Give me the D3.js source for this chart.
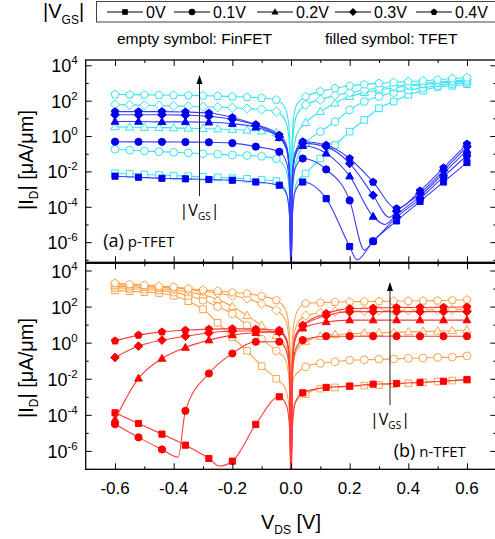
<!DOCTYPE html>
<html><head><meta charset="utf-8">
<script src="https://cdn.jsdelivr.net/npm/d3@7"></script>
<style>body{margin:0;background:#fff}svg{display:block}</style>
</head><body>
<svg id="c" width="495" height="539"></svg>
<script>
// ---------------- DATA ----------------
const vgsLabels = ["0V", "0.1V", "0.2V", "0.3V", "0.4V"];
const shapes = ["square", "circle", "triangle", "diamond", "pentagon"];

// V_DS sample points (V); FinFET markers every 0.05 V, TFET markers every 0.08 V
const vdsFin = [-0.6,-0.55,-0.5,-0.45,-0.4,-0.35,-0.3,-0.25,-0.2,-0.15,-0.1,-0.05,
  -0.02,-0.008,-0.003,0,0.003,0.008,0.02,
  0.05,0.1,0.15,0.2,0.25,0.3,0.35,0.4,0.45,0.5,0.55,0.6];
const vdsTfetP = [-0.6,-0.52,-0.44,-0.36,-0.28,-0.2,-0.12,-0.04,
  -0.015,-0.005,0,0.005,0.015,
  0.04,0.12,0.2,0.225,0.25,0.28,0.32,0.335,0.36,0.44,0.52,0.6];
const vdsTfetN = [-0.6,-0.52,-0.44,-0.385,-0.36,-0.28,-0.245,-0.2,-0.12,-0.04,
  -0.015,-0.005,0,0.005,0.015,
  0.04,0.12,0.2,0.28,0.36,0.44,0.52,0.6];
const tfetMarkV = [-0.6,-0.52,-0.44,-0.36,-0.28,-0.2,-0.12,-0.04,0.04,0.12,0.2,0.28,0.36,0.44,0.52,0.6];

// log10(|I_D| / (uA/um))
// (a) p-type, FinFET (empty symbols)
const finP_0V  = [-2.1,-2.13,-2.17,-2.2,-2.24,-2.27,-2.3,-2.34,-2.38,-2.42,-2.47,-2.55, -3.0,-3.9,-5.4,-8,-5.2,-3.7,-2.6, -2.12,-1.27,-0.51,0.25,0.91,1.57,1.95,2.33,2.57,2.77,2.84,2.93];
const finP_01V = [-0.75,-0.8,-0.85,-0.88,-0.92,-0.95,-1.0,-1.03,-1.07,-1.1,-1.15,-1.3, -1.8,-2.7,-4.2,-8,-4.0,-2.5,-1.3, -0.42,0.25,0.81,1.48,1.95,2.23,2.46,2.6,2.72,2.85,2.95,3.02];
const finP_02V = [0.52,0.5,0.49,0.48,0.46,0.44,0.42,0.4,0.37,0.33,0.28,0.18, -0.3,-1.2,-2.7,-8,-2.5,-1.0,0.1, 0.76,1.38,1.86,2.23,2.45,2.6,2.72,2.82,2.9,2.98,3.05,3.1];
const finP_03V = [1.78,1.76,1.74,1.72,1.7,1.68,1.66,1.63,1.6,1.55,1.5,1.38, 0.9,0.0,-1.5,-8,-1.3,0.2,1.2, 1.76,2.05,2.3,2.45,2.6,2.72,2.82,2.9,2.98,3.05,3.12,3.18];
const finP_04V = [2.35,2.34,2.33,2.32,2.31,2.3,2.28,2.26,2.23,2.2,2.15,2.05, 1.6,0.7,-0.8,-8,-0.6,0.9,1.8, 2.23,2.52,2.7,2.84,2.92,2.98,3.03,3.08,3.12,3.18,3.25,3.3];
// (a) p-type, TFET (filled symbols)
const tfetP_0V  = [-2.27,-2.33,-2.39,-2.42,-2.46,-2.5,-2.6,-2.78, -3.3,-4.5,-8,-4.4,-3.1, -2.6,-3.54,-6.25,-7.0,null,-5.95,null,null,-4.8,-3.7,-2.6,-1.5];
const tfetP_01V = [-0.32,-0.33,-0.33,-0.34,-0.35,-0.4,-0.6,-0.89, -1.5,-2.9,-8,-3.0,-1.8, -1.27,-1.89,-3.64,null,-6.45,-5.95,null,null,-4.6,-3.55,-2.3,-1.1];
const tfetP_02V = [0.82,0.82,0.8,0.8,0.78,0.7,0.5,-0.1, -0.8,-2.2,-8,-2.4,-1.1, -0.55,-0.98,-2.27,null,null,-4.55,-5.0,null,-4.45,-3.4,-2.1,-0.8];
const tfetP_03V = [1.2,1.2,1.2,1.18,1.12,0.95,0.6,-0.05, -0.7,-2.1,-8,-2.3,-1.0, -0.4,-0.6,-1.55,null,null,-3.35,null,-4.6,-4.25,-3.25,-1.95,-0.6];
const tfetP_04V = [1.38,1.38,1.38,1.36,1.3,1.05,0.65,0.05, -0.6,-2.0,-8,-2.2,-0.9, -0.32,-0.51,-1.27,null,null,-2.6,null,null,-4.1,-3.1,-1.8,-0.45];
// (b) n-type, FinFET (empty symbols)
const finN_0V  = [2.9,2.85,2.8,2.75,2.6,2.3,1.85,1.1,0.3,-0.45,-1.3,-2.0, -2.5,-3.4,-4.9,-8,-5.0,-3.6,-3.2, -2.85,-2.55,-2.48,-2.42,-2.38,-2.35,-2.3,-2.25,-2.2,-2.15,-2.1,-2.05];
const finN_01V = [3.05,3.0,2.95,2.9,2.8,2.6,2.35,2.0,1.6,0.95,0.2,-0.45, -0.9,-1.8,-3.3,-8,-3.5,-2.0,-1.7, -1.34,-1.15,-1.06,-0.97,-0.95,-0.92,-0.9,-0.87,-0.85,-0.82,-0.8,-0.73];
const finN_02V = [3.15,3.1,3.05,3.0,2.92,2.8,2.65,2.4,2.0,1.5,0.95,0.4, -0.1,-1.0,-2.5,-8,-2.7,-1.2,-0.4, 0.05,0.35,0.45,0.5,0.53,0.55,0.57,0.6,0.62,0.64,0.66,0.7];
const finN_03V = [3.22,3.17,3.12,3.08,3.02,2.95,2.85,2.75,2.6,2.45,2.15,1.8, 1.3,0.4,-1.1,-8,-1.3,0.2,1.0, 1.5,1.65,1.72,1.75,1.77,1.78,1.79,1.8,1.81,1.82,1.83,1.85];
const finN_04V = [3.3,3.24,3.19,3.13,3.09,3.0,2.92,2.87,2.78,2.72,2.58,2.35, 1.9,1.0,-0.5,-8,-0.7,0.8,1.7, 2.17,2.22,2.25,2.27,2.28,2.29,2.3,2.31,2.32,2.33,2.35,2.38];
// (b) n-type, TFET (filled symbols)
const tfetN_0V  = [-3.89,-4.48,-5.07,null,-5.68,-6.42,-6.84,-6.57,-4.53,-3.0, -3.5,-4.7,-8,-4.7,-3.3, -2.78,-2.48,-2.41,-2.3,-2.26,-2.2,-2.14,-2.05];
const tfetN_01V = [-4.52,-5.25,-5.92,-6.35,-3.78,-1.71,null,-0.6,0.05,0.05, -0.5,-1.7,-8,-1.8,-0.4, 0.14,0.36,0.36,0.36,0.36,0.36,0.36,0.36];
const tfetN_02V = [-4.26,-1.98,-0.88,null,-0.27,0.14,null,0.42,0.55,0.6, 0.1,-1.1,-8,-1.2,0.2, 0.8,1.15,1.25,1.25,1.25,1.25,1.25,1.25];
const tfetN_03V = [-0.82,-0.19,0.14,null,0.36,0.54,null,0.65,0.65,0.6, 0.1,-1.1,-8,-1.1,0.3, 0.92,1.5,1.71,1.72,1.72,1.72,1.72,1.72];
const tfetN_04V = [0.1,0.42,0.6,null,0.69,0.75,null,0.78,0.75,0.69, 0.2,-1.0,-8,-1.0,0.4, 0.97,1.62,1.89,1.92,1.95,1.95,1.96,1.98];

const yMajorExp = [-6,-4,-2,0,2,4];
const yMinorExp = [-7,-5,-3,-1,1,3];
const xMajor = [-0.6,-0.4,-0.2,0,0.2,0.4,0.6];
const xMinor = [-0.5,-0.3,-0.1,0.1,0.3,0.5];

// ---------------- DRAW ----------------
const svg = d3.select("#c");
const FONT = "'Liberation Sans', Arial, sans-serif";
const X0 = 85.7, X1 = 496.3;
const x = d3.scaleLinear().domain([-0.7, 0.7]).range([X0, X1]);
const yTop = d3.scaleLog().domain([10 ** -7.14, 10 ** 4.3]).range([262.3, 60]);
const yBot = d3.scaleLog().domain([10 ** -7.02, 10 ** 4.4]).range([469.3, 263.3]);

function symPath(shape, r) {
  const p = d3.path();
  if (shape === "square") p.rect(-r * 0.85, -r * 0.85, r * 1.7, r * 1.7);
  else if (shape === "circle") { p.moveTo(r, 0); p.arc(0, 0, r, 0, 2 * Math.PI); }
  else if (shape === "triangle") { p.moveTo(0, -r * 1.15); p.lineTo(r * 1.08, r * 0.75); p.lineTo(-r * 1.08, r * 0.75); p.closePath(); }
  else if (shape === "diamond") { p.moveTo(0, -r * 1.2); p.lineTo(r * 1.2, 0); p.lineTo(0, r * 1.2); p.lineTo(-r * 1.2, 0); p.closePath(); }
  else if (shape === "pentagon") {
    for (let i = 0; i < 5; i++) {
      const a = -Math.PI / 2 + i * 2 * Math.PI / 5, R = r * 1.08;
      if (i === 0) p.moveTo(R * Math.cos(a), R * Math.sin(a)); else p.lineTo(R * Math.cos(a), R * Math.sin(a));
    }
    p.closePath();
  }
  return p.toString();
}

function drawSeries(g, y, xs, vals, shape, isMark, lineColor, markStroke, markFill, r) {
  const pts = xs.map((v, i) => ({ v, e: vals[i] })).filter(d => d.e !== null);
  const line = d3.line().x(d => x(d.v)).y(d => y(10 ** d.e)).curve(d3.curveMonotoneX);
  g.append("path").attr("d", line(pts)).attr("fill", "none")
    .attr("stroke", lineColor).attr("stroke-width", 1.1);
  g.selectAll(null).data(pts.filter(d => isMark(d.v))).join("path")
    .attr("transform", d => `translate(${x(d.v)},${y(10 ** d.e)})`)
    .attr("d", symPath(shape, r))
    .attr("fill", markFill).attr("stroke", markStroke).attr("stroke-width", 1);
}

const finMark = v => Math.abs(v) >= 0.045;
const tfetMark = v => tfetMarkV.some(m => Math.abs(m - v) < 1e-6);

function panel(id, y, finSets, tfetSets, tfetXs, finColor, tfetLine, tfetMarkColor) {
  const [ya, yb] = y.range(); // bottom, top
  svg.append("clipPath").attr("id", id).append("rect")
    .attr("x", X0).attr("y", yb).attr("width", X1 - X0).attr("height", ya - yb);
  const g = svg.append("g").attr("clip-path", `url(#${id})`);
  finSets.forEach((vals, i) => drawSeries(g, y, vdsFin, vals, shapes[i], finMark, finColor, finColor, "#fff", 3.9));
  tfetSets.forEach((vals, i) => drawSeries(g, y, tfetXs, vals, shapes[i], tfetMark, tfetLine, tfetMarkColor, tfetMarkColor, 3.6));

  // axes (ticks inward on all four sides)
  const ax = svg.append("g").attr("stroke-width", 1);
  const addAxis = (axis, tr) => ax.append("g").attr("transform", tr).call(axis)
    .call(s => { s.select(".domain").remove(); s.selectAll("text").remove(); s.selectAll("line").attr("stroke", "#000"); });
  const maj = yMajorExp.map(e => 10 ** e), min = yMinorExp.map(e => 10 ** e);
  addAxis(d3.axisLeft(y).tickValues(maj).tickSizeInner(-6).tickSizeOuter(0), `translate(${X0},0)`);
  addAxis(d3.axisLeft(y).tickValues(min).tickSizeInner(-3).tickSizeOuter(0), `translate(${X0},0)`);
  addAxis(d3.axisRight(y).tickValues(maj).tickSizeInner(-6).tickSizeOuter(0), `translate(${X1},0)`);
  addAxis(d3.axisRight(y).tickValues(min).tickSizeInner(-3).tickSizeOuter(0), `translate(${X1},0)`);
  addAxis(d3.axisBottom(x).tickValues(xMajor).tickSizeInner(-6).tickSizeOuter(0), `translate(0,${ya})`);
  addAxis(d3.axisBottom(x).tickValues(xMinor).tickSizeInner(-3).tickSizeOuter(0), `translate(0,${ya})`);
  addAxis(d3.axisTop(x).tickValues(xMajor).tickSizeInner(-6).tickSizeOuter(0), `translate(0,${yb})`);
  addAxis(d3.axisTop(x).tickValues(xMinor).tickSizeInner(-3).tickSizeOuter(0), `translate(0,${yb})`);
  svg.append("rect").attr("x", X0).attr("y", yb).attr("width", X1 - X0).attr("height", ya - yb)
    .attr("fill", "none").attr("stroke", "#000").attr("stroke-width", 1.3);

  // y tick labels 10^n
  yMajorExp.forEach(e => {
    const t = svg.append("text").attr("x", X0 - 8).attr("y", y(10 ** e) + 7)
      .attr("text-anchor", "end").attr("font-family", FONT).attr("font-size", 18).attr("fill", "#000");
    t.append("tspan").text("10");
    t.append("tspan").attr("dy", -8).attr("font-size", 11.5).text(e);
  });
}

panel("clipTop", yTop, [finP_0V, finP_01V, finP_02V, finP_03V, finP_04V],
  [tfetP_0V, tfetP_01V, tfetP_02V, tfetP_03V, tfetP_04V], vdsTfetP, "#33e3f2", "#3b3bff", "#0000f0");
panel("clipBot", yBot, [finN_0V, finN_01V, finN_02V, finN_03V, finN_04V],
  [tfetN_0V, tfetN_01V, tfetN_02V, tfetN_03V, tfetN_04V], vdsTfetN, "#ffa24a", "#ff3a3a", "#ff0000");

// x tick labels
svg.append("g").selectAll("text").data(xMajor).join("text")
  .attr("x", d => x(d)).attr("y", 493.5).attr("text-anchor", "middle")
  .attr("font-family", FONT).attr("font-size", 17).text(d => d3.format(".1f")(d).replace("−", "-"));

// x title
const xt = svg.append("text").attr("x", 291).attr("y", 529).attr("text-anchor", "middle")
  .attr("font-family", FONT).attr("font-size", 20);
xt.append("tspan").text("V");
xt.append("tspan").attr("dy", 5).attr("font-size", 12).text("DS");
xt.append("tspan").attr("dy", -5).text(" [V]");

// y titles
function yTitle(cy) {
  const t = svg.append("text").attr("transform", `translate(33,${cy}) rotate(-90)`).attr("text-anchor", "middle")
    .attr("font-family", FONT).attr("font-size", 20);
  t.append("tspan").text("|I");
  t.append("tspan").attr("dy", 5).attr("font-size", 12).text("D");
  t.append("tspan").attr("dy", -5).text("| [μA/μm]");
}
yTitle(160);
yTitle(368);

// legend
svg.append("rect").attr("x", 96.5).attr("y", 1.5).attr("width", 400).attr("height", 20.5)
  .attr("fill", "#fff").attr("stroke", "#444").attr("stroke-width", 1);
const legX = [107, 174, 257, 335, 416];
vgsLabels.forEach((lab, i) => {
  const g = svg.append("g").attr("transform", `translate(${legX[i]},12)`);
  g.append("line").attr("x1", 0).attr("x2", 36).attr("stroke", "#000").attr("stroke-width", 1);
  g.append("path").attr("transform", "translate(18,0)").attr("d", symPath(shapes[i], 3.3)).attr("fill", "#000");
  g.append("text").attr("x", 39).attr("y", 5.5).attr("font-family", FONT).attr("font-size", 16).text(lab);
});
const vl = svg.append("text").attr("x", 43).attr("y", 18).attr("font-family", FONT).attr("font-size", 20);
vl.append("tspan").text("|V");
vl.append("tspan").attr("dy", 6).attr("font-size", 12).text("GS");
vl.append("tspan").attr("dy", -6).text("|");

svg.append("text").attr("x", 117).attr("y", 44).attr("font-family", FONT).attr("font-size", 15.5)
  .text("empty symbol: FinFET");
svg.append("text").attr("x", 325).attr("y", 44).attr("font-family", FONT).attr("font-size", 15.5)
  .text("filled symbol: TFET");

// arrows
function arrow(y, v, eTop, eBot, labY) {
  const ax = x(v), y1 = y(10 ** eBot), y2 = y(10 ** eTop);
  svg.append("line").attr("x1", ax).attr("x2", ax).attr("y1", y1).attr("y2", y2 + 6)
    .attr("stroke", "#222").attr("stroke-width", 1);
  svg.append("path").attr("d", `M${ax},${y2} L${ax + 3},${y2 + 9} L${ax - 3},${y2 + 9} Z`).attr("fill", "#000");
  const t = svg.append("text").attr("x", ax).attr("y", labY).attr("text-anchor", "middle")
    .attr("font-family", "'Open Sans', sans-serif").attr("font-size", 16);
  t.append("tspan").text("|V");
  t.append("tspan").attr("dy", 4).attr("font-size", 10).text("GS");
  t.append("tspan").attr("dy", -4).text("|");
}
arrow(yTop, -0.312, 3.45, -3.4, 215.5);
arrow(yBot, 0.3375, 3.37, -3.46, 425);

// panel labels
function plabel(px, py, a, b) {
  const t = svg.append("text").attr("x", px).attr("y", py).attr("font-family", "'Open Sans', sans-serif").attr("font-size", 18);
  t.append("tspan").text(a);
  t.append("tspan").attr("font-size", 15).text(" " + b);
}
plabel(x(-0.64), 247, "(a)", "p-TFET");
plabel(x(0.35), 456.5, "(b)", "n-TFET");
</script>
</body></html>
